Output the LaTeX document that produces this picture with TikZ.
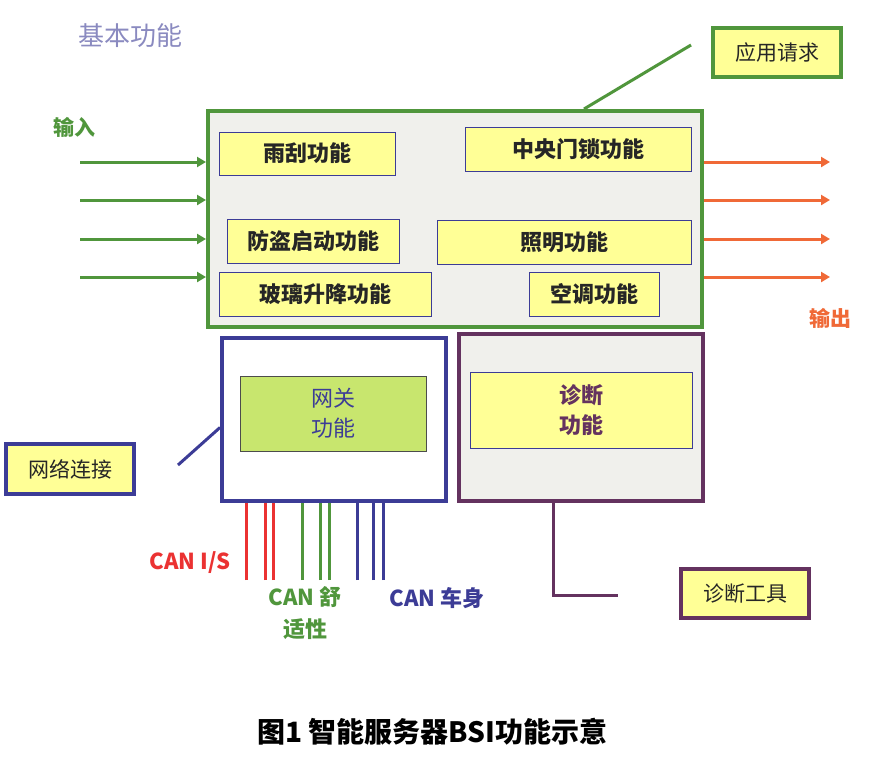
\documentclass[tikz,border=0pt]{standalone}
\usepackage{fontspec}
\setmainfont{Noto Sans CJK SC}
\usetikzlibrary{arrows.meta}
\definecolor{bsigreen}{RGB}{80,150,60}
\definecolor{bsiblue}{RGB}{60,60,150}
\definecolor{bsipurple}{RGB}{100,50,95}
\definecolor{bsiorange}{RGB}{240,105,55}
\definecolor{bsired}{RGB}{235,50,50}
\definecolor{bsiyellow}{RGB}{255,255,150}
\definecolor{bsilime}{RGB}{200,230,110}
\definecolor{bsiback}{RGB}{240,240,236}

\begin{document}
\begin{tikzpicture}[x=1pt,y=-1pt,
  func/.style={draw=bsiblue,line width=1pt,fill=bsiyellow,inner sep=0pt,align=center,text=black!85,font=\bfseries\fontsize{22}{30}\selectfont},
  tag/.style={line width=4pt,fill=bsiyellow,inner sep=0pt,text=black!85,font=\fontsize{21}{26}\selectfont},
  frame/.style={line width=4pt,fill=bsiback,inner sep=0pt},
  inarrow/.style={bsigreen,line width=3pt,-{Triangle[length=9pt,width=10pt]}},
  outarrow/.style={bsiorange,line width=3pt,-{Triangle[length=9pt,width=10pt]}},
  bus/.style={line width=3pt}]
\useasboundingbox (0,0) rectangle (872,756);
\fill[white] (0,0) rectangle (872,756);

% main block
\node[frame,draw=bsigreen,minimum width=494,minimum height=216] (main) at (455,219) {};
\node[func,minimum width=176,minimum height=43] (wiper) at (307,153.5) {雨刮功能};
\node[func,minimum width=226,minimum height=44] (lock) at (578,149) {中央门锁功能};
\node[func,minimum width=172,minimum height=44] (theft) at (313,241) {防盗启动功能};
\node[func,minimum width=254,minimum height=44] (light) at (564,242) {照明功能};
\node[func,minimum width=212,minimum height=44] (window) at (325,294) {玻璃升降功能};
\node[func,minimum width=130,minimum height=44] (clim) at (594,294) {空调功能};

% gateway and diagnosis
\node[frame,draw=bsiblue,fill=white,minimum width=224,minimum height=163] (gw) at (334,419.5) {};
\node[func,draw=black!70,fill=bsilime,minimum width=186,minimum height=75,text=bsiblue,font=\fontsize{22}{30}\selectfont] (gwfn) at (333,413.5) {网关\\功能};
\node[frame,draw=bsipurple,minimum width=244,minimum height=167] (diag) at (581,417.5) {};
\node[func,fill=bsiyellow,minimum width=222,minimum height=76,text=bsipurple] (diagfn) at (581,410) {诊断\\功能};

% tags
\node[tag,draw=bsigreen,minimum width=128,minimum height=49] (req) at (777,52.5) {应用请求};
\node[tag,draw=bsiblue,minimum width=128,minimum height=50] (net) at (70,469) {网络连接};
\node[tag,draw=bsipurple,minimum width=128,minimum height=49] (tool) at (745,593.5) {诊断工具};

\coordinate (reqtip) at (691,45);
\draw[bsigreen,line width=3pt] (reqtip) -- ([xshift=129pt]main.north);
\coordinate (nettip) at (178,465);
\draw[bsiblue,line width=3pt] (nettip) -- ([yshift=-8pt]gw.west);
\coordinate (toolend) at (618,595);
\draw[bsipurple,line width=3pt] ([xshift=-28pt]diag.south) |- (toolend);

% inputs and outputs
\coordinate (in1) at (80,162);
\coordinate (in2) at (80,200);
\coordinate (in3) at (80,239);
\coordinate (in4) at (80,277);
\draw[inarrow] (in1) -- (in1 -| main.west);
\draw[inarrow] (in2) -- (in2 -| main.west);
\draw[inarrow] (in3) -- (in3 -| main.west);
\draw[inarrow] (in4) -- (in4 -| main.west);
\coordinate (out1) at (830,162);
\coordinate (out2) at (830,200);
\coordinate (out3) at (830,239);
\coordinate (out4) at (830,277);
\draw[outarrow] (out1 -| main.east) -- (out1);
\draw[outarrow] (out2 -| main.east) -- (out2);
\draw[outarrow] (out3 -| main.east) -- (out3);
\draw[outarrow] (out4 -| main.east) -- (out4);

% CAN buses
\foreach \x/\c in {246/bsired,265/bsired,273/bsired,302/bsigreen,320/bsigreen,329/bsigreen,357/bsiblue,373/bsiblue,383/bsiblue}
  \draw[bus,\c] (\x,580) -- (\x,580 |- gw.south);

% labels
\node[text=bsiblue!60,font=\fontsize{26}{30}\selectfont] (basic) at (130,36) {基本功能};
\node[text=bsigreen,font=\bfseries\fontsize{21}{26}\selectfont] (inlbl) at (74,127) {输入};
\node[text=bsiorange,font=\bfseries\fontsize{21}{26}\selectfont] (outlbl) at (830,318) {输出};
\node[text=bsired,font=\bfseries\fontsize{22}{26}\selectfont] (canis) at (190,563) {CAN I/S};
\node[text=bsigreen,font=\bfseries\fontsize{22}{32}\selectfont,align=center] (cancom) at (305,613) {CAN 舒\\适性};
\node[text=bsiblue,font=\bfseries\fontsize{22}{26}\selectfont] (canbody) at (437,598) {CAN 车身};
\node[font=\bfseries\fontsize{28}{32}\selectfont] (caption) at (432,732) {图1 智能服务器BSI功能示意};
\end{tikzpicture}
\end{document}
